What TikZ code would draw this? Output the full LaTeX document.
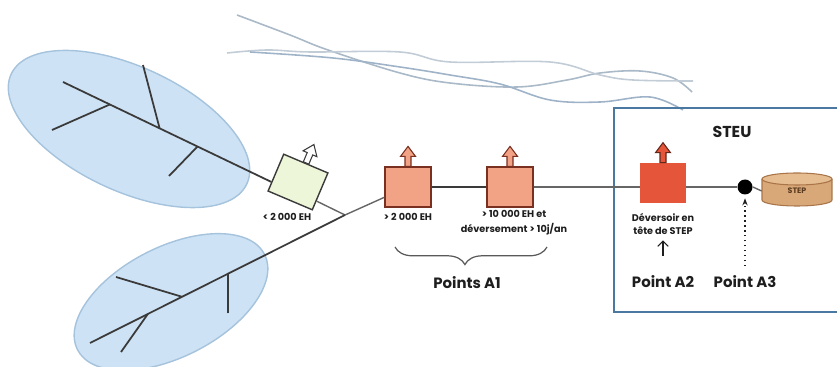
\documentclass[tikz,border=0pt]{standalone}
\usepackage{fontspec}
\setmainfont{Poppins}
\usetikzlibrary{calc,decorations.pathreplacing,arrows.meta}
\definecolor{ellfill}{HTML}{CDE2F4}
\definecolor{elldraw}{HTML}{A5C3DC}
\definecolor{branch}{HTML}{3A3A3A}
\definecolor{greenfill}{HTML}{EEF6D9}
\definecolor{pinkfill}{HTML}{F2A285}
\definecolor{pinkdraw}{HTML}{7A3020}
\definecolor{redfill}{HTML}{E4553A}
\definecolor{steuc}{HTML}{4A78A0}
\definecolor{cylc}{HTML}{D8A878}
\definecolor{cyldraw}{HTML}{A87448}
\definecolor{cyltop}{HTML}{E6BD90}
\definecolor{cyltext}{HTML}{5A3A20}
\definecolor{riverA}{HTML}{A9B9C7}
\definecolor{riverB}{HTML}{C2CCD6}
\definecolor{riverC}{HTML}{9FB3C8}
\definecolor{txt}{HTML}{1E1E1E}
\tikzset{
  basin/.style={fill=ellfill, draw=elldraw, line width=0.8pt},
  pipe/.style={draw=branch, line width=1pt},
  thinpipe/.style={draw=gray!80!black, line width=0.8pt},
  lbl/.style={font=\fontsize{5.5}{8.5}\selectfont\bfseries, align=center, text=txt, inner sep=0pt},
  big/.style={font=\fontsize{8.5}{9.5}\selectfont\bfseries, text=txt, inner sep=0pt},
  sqbox/.style={minimum width=0.92cm, minimum height=0.8cm, inner sep=0pt},
  river/.style={line width=0.9pt, smooth, tension=0.6},
  outarrow/.pic={\path[pic actions] (-3,0) -- (-3,-10) -- (-7.5,-10) -- (0,-20) -- (7.5,-10) -- (3,-10) -- (3,0) -- cycle;}
}
\begin{document}
\begin{tikzpicture}[x=0.02cm, y=-0.02cm]
\useasboundingbox (0,0) rectangle (837,367);
\clip (0,0) rectangle (837,367);

% river
\draw[river, riverA] plot coordinates {(237,15) (290,35) (328,50) (400,73) (450,83) (517,87) (567,80) (600,73) (640,71) (673,78) (692,92)};
\draw[river, riverB] plot coordinates {(227,53) (267,50) (310,52) (400,52) (450,62) (550,62) (600,75) (633,80) (693,81)};
\draw[river, riverC] plot coordinates {(250,52) (333,58) (400,67) (450,75) (500,84) (550,100) (600,102) (650,97) (683,110)};

% basins
\path[basin, rotate around={-25:(129,129)}] (129,129) ellipse [x radius=130, y radius=62];
\path[basin, rotate around={27:(171,302)}] (171,302) ellipse [x radius=105, y radius=55];

% STEU frame
\draw[steuc, line width=1.4pt] (614,108) rectangle (850,312);
\node[font=\fontsize{9}{10}\selectfont\bfseries, text=txt] (steulbl) at (732,132) {STEU};

% nodes
\node[sqbox, draw=branch, fill=greenfill, line width=0.8pt, rotate=-23, minimum width=0.96cm, minimum height=0.8cm] (g) at (298,182) {};
\node[sqbox, draw=pinkdraw, fill=pinkfill, line width=0.7pt] (p1) at (408,187) {};
\node[sqbox, draw=pinkdraw, fill=pinkfill, line width=0.7pt] (p2) at (510,187) {};
\node[sqbox, fill=redfill] (r) at (663,183) {};
\node[circle, fill=black, minimum size=0.3cm, inner sep=0pt] (d) at (745,187) {};

% cylinder STEP
\fill[cylc] (762,179) rectangle (832,200);
\fill[cylc] (797,200) ellipse [x radius=35, y radius=6];
\draw[cyldraw, line width=0.6pt] (762,179) -- (762,200) arc[start angle=180, end angle=0, x radius=35, y radius=6] -- (832,179);
\filldraw[fill=cyltop, draw=cyldraw, line width=0.6pt] (797,179) ellipse [x radius=35, y radius=6];
\node[font=\fontsize{4.5}{5}\selectfont\bfseries, text=cyltext, minimum width=1.4cm, minimum height=0.5cm, inner sep=0pt] (s) at (797,191) {STEP};

% outlet arrows
\pic[draw=branch, fill=white, line width=0.6pt, rotate=-23] at (g.north) {outarrow};
\pic[draw=pinkdraw, fill=pinkfill, line width=0.6pt] at (p1.north) {outarrow};
\pic[draw=pinkdraw, fill=pinkfill, line width=0.6pt] at (p2.north) {outarrow};
\pic[draw=pinkdraw!80!black, fill=redfill, line width=0.6pt] at (r.north) {outarrow};

% upper network
\coordinate (u0) at (63,82);
\coordinate (ue) at ($(g.west)!0.5!(g.south west)$);
\coordinate (j1) at ($(u0)!0.225!(ue)$);
\coordinate (j2) at ($(u0)!0.464!(ue)$);
\coordinate (j3) at ($(u0)!0.646!(ue)$);
\coordinate (b1) at (52,130);
\coordinate (b2) at (143,65);
\coordinate (b3) at (169,176);
\draw[pipe] (u0) -- (ue);
\draw[pipe] (j1) -- (b1);
\draw[pipe] (j2) -- (b2);
\draw[pipe] (j3) -- (b3);

% junction and lower network
\coordinate (J) at (345,215);
\coordinate (gout) at ($(g.east)!0.5!(g.south east)$);
\draw[thinpipe] (gout) -- (J);
\coordinate (l0) at (90,343);
\coordinate (k1) at ($(J)!0.459!(l0)$);
\coordinate (k2) at ($(J)!0.639!(l0)$);
\coordinate (k3) at ($(J)!0.773!(l0)$);
\coordinate (c1) at (228,313);
\coordinate (c2) at (116,277);
\coordinate (c3) at (121,352);
\draw[pipe] (J) -- (l0);
\draw[pipe] (k1) -- (c1);
\draw[pipe] (k2) -- (c2);
\draw[pipe] (k3) -- (c3);

% main line
\draw[thinpipe] (J) -- ($(p1.west)!0.5!(p1.south west)$);
\draw[draw=branch, line width=1.3pt] (p1.east) -- (p2.west);
\draw[thinpipe] (p2.east) -- (p2.east -| r.west);
\draw[thinpipe] (r.east |- d) -- (d.west);
\draw[thinpipe] (d.east) -- (s.west);

% labels
\node[lbl] (lg) at (287,217) {< 2 000 EH};
\node[lbl] (l1) at (408,217) {> 2 000 EH};
\node[lbl] (l2) at (514,223) {> 10 000 EH et\\déversement > 10j/an};
\node[lbl, font=\fontsize{5.5}{7.5}\selectfont\bfseries] (dev) at (663,224) {Déversoir en\\tête de STEP};

% brace and Points A1
\coordinate (br0) at (395,247);
\coordinate (br1) at (547,247);
\draw[draw=gray!70!black, line width=0.7pt, decorate, decoration={brace, mirror, amplitude=10pt, aspect=0.46}] (br0) -- (br1);
\node[big] (pa1) at (467,283) {Points A1};

% Point A2 / A3
\node[big] (pa2) at (663,282) {Point A2};
\node[big] (pa3) at (745,282) {Point A3};
\coordinate (a2s) at (663,256);
\draw[-{Straight Barb[length=3pt]}, line width=0.6pt, txt] (a2s) -- ([yshift=-3pt]dev.south);
\coordinate (a3s) at (745,266);
\draw[-{Stealth[length=4pt]}, line width=0.8pt, dotted, txt] (a3s) -- ([yshift=-2pt]d.south);
\end{tikzpicture}
\end{document}
